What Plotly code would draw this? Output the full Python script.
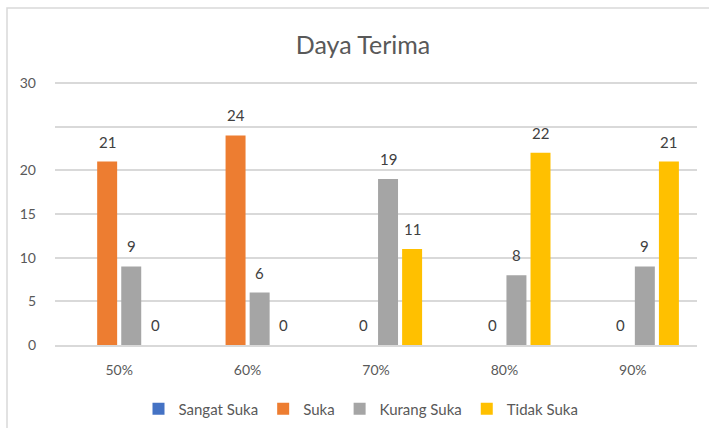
import plotly.graph_objects as go

categories = ["50%", "60%", "70%", "80%", "90%"]
series_names = ["Sangat Suka", "Suka", "Kurang Suka", "Tidak Suka"]
sangat_suka = [None, None, None, None, None]
suka = [21, 24, 0, 0, 0]
kurang_suka = [9, 6, 19, 8, 9]
tidak_suka = [0, 0, 11, 22, 21]
colors = ["#4472C4", "#ED7D31", "#A5A5A5", "#FFC000"]
y_ticks = [0, 5, 10, 15, 20, 25, 30]
y_tick_text = ["0", "5", "10", "15", "20", "", "30"]

FONT = "Lato, Carlito, Calibri, sans-serif"
W, H = 709, 428
L, R, T, B = 55, 12, 80, 83
pw, ph = W - L - R, H - T - B
BARGAP = 0.25
Y_TOP = 30.34

all_series = [sangat_suka, suka, kurang_suka, tidak_suka]

fig = go.Figure()
for name, vals, col in zip(series_names, all_series, colors):
    fig.add_trace(go.Bar(
        name=name, x=categories, y=vals,
        marker=dict(color=col, line=dict(width=0)),
        cliponaxis=False,
    ))

# data labels
n = len(all_series)
slot = (1 - BARGAP) / n
for k, vals in enumerate(all_series):
    for i, v in enumerate(vals):
        if v is None:
            continue
        fig.add_annotation(
            x=i + (k - (n - 1) / 2) * slot, y=v, xref="x", yref="y",
            text=str(v), showarrow=False, yanchor="bottom", xanchor="center",
            yshift=9, font=dict(family=FONT, size=15, color="#404040"),
        )

def px_x(x):
    return (x - L) / pw

def px_y(y):
    return (H - B - y) / ph

fig.add_shape(type="rect", xref="paper", yref="paper",
              x0=px_x(7), x1=px_x(720), y0=px_y(440), y1=px_y(8),
              line=dict(color="#D9D9D9", width=1.5), fillcolor="rgba(0,0,0,0)")

fig.update_layout(
    width=W, height=H,
    margin=dict(l=L, r=R, t=T, b=B, autoexpand=False),
    paper_bgcolor="white", plot_bgcolor="white",
    barmode="group", bargap=BARGAP, bargroupgap=0.17,
    title=dict(text="Daya Terima", x=363 / W, xanchor="center",
               y=1 - 45 / H, yanchor="middle",
               font=dict(family=FONT, size=25, color="#595959")),
    font=dict(family=FONT, color="#595959"),
    showlegend=True,
    legend=dict(orientation="h", x=px_x(361), xanchor="center",
                y=px_y(409), yanchor="middle",
                font=dict(family=FONT, size=15, color="#595959"),
                itemwidth=30, tracegroupgap=0),
    xaxis=dict(showgrid=False, showline=True, linecolor="#D9D9D9", linewidth=1.5,
               ticks="", tickfont=dict(family=FONT, size=14, color="#595959"),
               ticklabelstandoff=11, automargin=False),
    yaxis=dict(range=[0, Y_TOP], tickvals=y_ticks, ticktext=y_tick_text,
               showgrid=True, gridcolor="#D9D9D9", gridwidth=1.5,
               zeroline=False, showline=False, ticks="",
               tickfont=dict(family=FONT, size=14, color="#595959"),
               ticklabelstandoff=18, automargin=False),
)

fig.write_html("out.html", config={"displayModeBar": False},
               post_script="document.body.style.margin='0';document.body.style.padding='0';")
